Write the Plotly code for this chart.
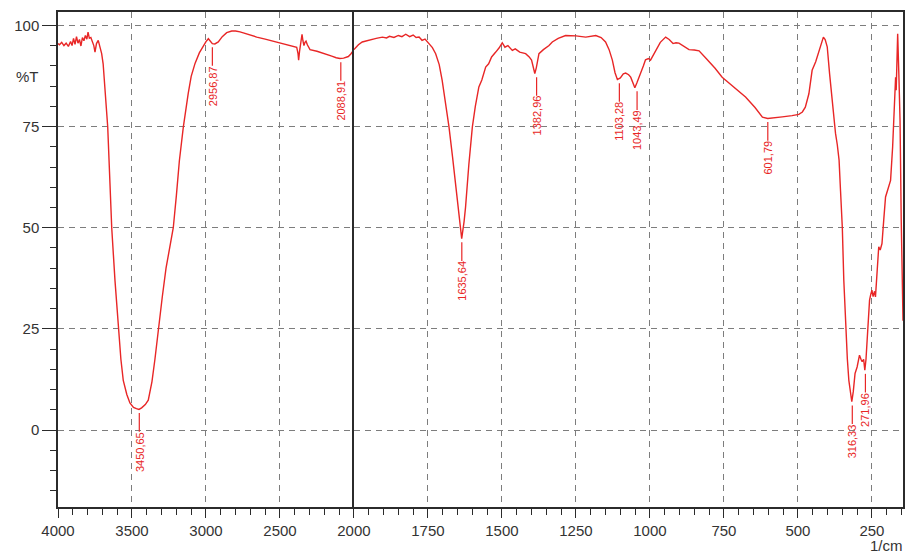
import plotly.graph_objects as go

# ---------------- data ----------------
wavenumber = [
    4000, 3990, 3975, 3960, 3945, 3930, 3915, 3905, 3895, 3885, 3875, 3865, 3855, 3845,
    3835, 3825, 3815, 3805, 3797, 3788, 3778, 3768, 3758, 3750, 3740, 3728, 3718, 3705,
    3695, 3682, 3672, 3664, 3650, 3637, 3615, 3592, 3575, 3559, 3535, 3514, 3490, 3470,
    3453, 3435, 3410, 3390, 3365, 3345, 3322, 3295, 3270, 3245, 3221, 3200, 3180, 3153,
    3135, 3120, 3100, 3074, 3045, 3018, 3000, 2984, 2970, 2957, 2940, 2917, 2890, 2860,
    2826, 2800, 2770, 2720, 2657, 2600, 2522, 2450, 2400, 2387, 2378, 2374, 2368, 2360,
    2351, 2345, 2338, 2331, 2324, 2315, 2297, 2250, 2207, 2150, 2120, 2095, 2070, 2050,
    2038, 2020, 2000,
    1985, 1972, 1950, 1925, 1904, 1890, 1880, 1865, 1850, 1838, 1825, 1812, 1800, 1790,
    1780, 1770, 1760, 1747, 1735, 1724, 1712, 1702, 1690, 1679, 1667, 1656, 1645, 1636,
    1628, 1623, 1612, 1600, 1590, 1578, 1568, 1560, 1555, 1545, 1535, 1521, 1510, 1499,
    1490, 1480, 1465, 1455, 1440, 1420, 1408, 1400, 1393, 1389, 1384, 1378, 1375, 1360,
    1341, 1330, 1310, 1285, 1250, 1217, 1200, 1183, 1165, 1150, 1138, 1127, 1118, 1110,
    1100, 1090, 1082, 1072, 1065, 1058, 1051, 1044, 1031, 1022, 1015, 1005, 998, 990,
    981, 965, 947, 935, 922, 912, 902, 885, 868, 850, 834, 810, 780, 756, 720, 677, 645,
    620, 602, 580, 553, 520, 497, 485, 475, 463, 452, 440, 429, 420, 414, 408, 401, 393,
    384, 378, 373, 367, 361, 356, 350, 345, 339, 333, 328, 322, 318, 313, 307, 300, 292,
    287, 283, 278, 274, 270, 266, 262, 258, 254, 250, 246, 241, 238, 232, 227, 222, 216,
    210, 204, 196, 187, 180, 174, 170, 168, 166, 163, 159, 155, 151, 147, 145,
]
transmittance = [
    95.5, 95.2, 95.8, 95.0, 95.6, 94.8, 96.0, 95.0, 96.8, 95.3, 97.2, 95.6, 96.5, 94.9,
    97.0, 96.2, 97.5, 96.6, 98.3, 96.8, 97.0, 96.2, 95.0, 93.4, 95.5, 96.3, 95.0, 93.0,
    90.5, 84.8, 79.5, 74.9, 62.0, 50.0, 37.0, 25.2, 17.5, 12.3, 8.8, 6.7, 5.6, 5.3,
    5.1, 5.5, 6.3, 7.4, 12.0, 17.5, 25.2, 33.0, 40.0, 45.5, 50.0, 58.0, 66.5, 74.9,
    80.0, 83.2, 87.4, 90.6, 93.2, 95.0, 96.0, 96.7, 96.2, 95.5, 95.4, 95.9, 97.2, 98.2,
    98.6, 98.6, 98.4, 97.8, 97.1, 96.6, 95.9, 95.2, 94.8, 94.6, 93.0, 91.4, 93.5, 95.6,
    97.8, 96.2, 95.0, 95.8, 96.1, 95.2, 94.0, 93.6, 93.0, 92.4, 92.0, 91.8, 91.9, 92.2,
    92.3, 93.0, 94.0,
    95.2, 95.9, 96.4, 96.8, 97.1, 96.9, 97.3, 97.0, 97.5, 97.2, 97.8, 97.2, 97.6, 97.0,
    97.1, 96.3, 96.6, 95.5, 94.5, 93.0, 90.3, 86.4, 81.0, 74.9, 67.5, 60.0, 52.0, 47.3,
    51.5, 55.1, 65.5, 74.9, 80.0, 84.8, 86.5, 88.4, 89.7, 90.5, 92.2, 93.4, 94.4, 95.7,
    94.6, 95.0, 93.8, 94.2, 93.4, 93.0, 92.2, 91.4, 89.2, 88.1, 89.5, 92.0, 93.0, 94.0,
    95.0, 95.9, 96.8, 97.5, 97.4, 97.1, 97.3, 97.5, 97.0, 95.9, 94.0, 91.4, 88.3, 86.6,
    87.0, 88.0, 88.2, 87.8, 87.2, 85.8, 84.6, 85.8, 88.1, 90.0, 91.5, 91.8, 91.4, 92.5,
    93.8, 95.8, 97.1, 96.5, 95.5, 95.7, 95.6, 94.8, 94.0, 93.9, 93.7, 91.8, 89.4, 87.2,
    85.0, 82.3, 79.7, 77.3, 77.0, 77.1, 77.4, 77.7, 78.0, 78.6, 79.8, 83.1, 88.9, 91.0,
    93.4, 95.5, 97.1, 96.5, 94.7, 88.0, 80.7, 76.5, 73.3, 70.5, 66.7, 59.0, 50.0, 37.0,
    25.1, 17.5, 12.3, 8.5, 7.0, 9.5, 14.0, 15.6, 18.5, 17.5, 16.9, 17.5, 14.8, 17.5,
    22.2, 28.0, 32.1, 33.5, 34.6, 33.0, 34.3, 32.9, 40.0, 45.3, 44.5, 46.1, 52.0, 57.6,
    59.5, 61.7, 70.0, 80.0, 87.2, 84.0, 92.0, 97.9, 88.0, 76.5, 52.0, 27.2, 27.0,
]

peak_labels = ["3450,65", "2956,87", "2088,91", "1635,64", "1382,96",
               "1103,28", "1043,49", "601,79", "316,33", "271,96"]
peak_wn = [3450.65, 2956.87, 2088.91, 1635.64, 1382.96,
           1103.28, 1043.49, 601.79, 316.33, 271.96]
peak_T = [5.1, 95.5, 91.8, 47.3, 88.1, 86.6, 84.6, 77.0, 7.0, 14.8]

x_ticks_left = [4000, 3500, 3000, 2500, 2000]
x_ticks_right = [1750, 1500, 1250, 1000, 750, 500, 250]
y_ticks = [0, 25, 50, 75, 100]

# ---------------- figure ----------------
RED = "rgb(232,38,38)"
GRID = "#7d7d7d"
FRAME = "#2b2b2b"
W, H = 909, 554
ML, MR, MT, MB = 58, 6, 12, 47
SPLIT = 2000
XMIN_R = 145
# left part (4000-2000) drawn at half the scale of the right part
left_units = 4000 - SPLIT
right_units = 2 * (SPLIT - XMIN_R)
d = left_units / (left_units + right_units)

left_x = [w for w in wavenumber if w >= SPLIT]
left_y = [t for w, t in zip(wavenumber, transmittance) if w >= SPLIT]
right_x = [w for w in wavenumber if w <= SPLIT]
right_y = [t for w, t in zip(wavenumber, transmittance) if w <= SPLIT]

fig = go.Figure()
fig.add_trace(go.Scatter(x=left_x, y=left_y, mode="lines", xaxis="x", yaxis="y",
                         line=dict(color=RED, width=1.4), showlegend=False,
                         hoverinfo="skip"))
fig.add_trace(go.Scatter(x=right_x, y=right_y, mode="lines", xaxis="x2", yaxis="y2",
                         line=dict(color=RED, width=1.4), showlegend=False,
                         hoverinfo="skip"))

tickfont = dict(family="Liberation Sans, Arial, sans-serif", size=15, color="#333")
common_x = dict(showline=True, linecolor=FRAME, linewidth=1.5, mirror=True,
                showgrid=True, gridcolor=GRID, griddash="6px,5px", gridwidth=1,
                ticks="outside", ticklen=9, tickcolor=FRAME, tickwidth=1.3,
                tickfont=tickfont, zeroline=False, automargin=False)
common_y = dict(range=[-19, 103.3], showline=True, linecolor=FRAME, linewidth=1.5,
                showgrid=True, gridcolor=GRID, griddash="6px,5px",
                gridwidth=1, zeroline=False, automargin=False)

fig.update_layout(
    width=W, height=H, autosize=False, showlegend=False,
    margin=dict(l=ML, r=MR, t=MT, b=MB, pad=0, autoexpand=False),
    paper_bgcolor="white", plot_bgcolor="white",
    xaxis=dict(domain=[0, d], range=[4000, SPLIT], tickvals=x_ticks_left,
               minor=dict(dtick=100, ticks="outside", ticklen=6, tickcolor=FRAME,
                          showgrid=False),
               **common_x),
    xaxis2=dict(domain=[d, 1], range=[SPLIT, XMIN_R], tickvals=x_ticks_right,
                minor=dict(dtick=50, ticks="outside", ticklen=6, tickcolor=FRAME,
                           showgrid=False),
                **common_x),
    yaxis=dict(anchor="x", tickvals=y_ticks, ticks="outside", ticklen=14,
               tickcolor=FRAME, tickwidth=1.3, tickfont=tickfont, mirror=False,
               minor=dict(dtick=5, ticks="outside", ticklen=6, tickcolor=FRAME,
                          showgrid=False),
               **common_y),
    yaxis2=dict(anchor="x2", matches="y", tickvals=y_ticks, ticks="", mirror=True,
                showticklabels=False, **common_y),
)

# peak labels: short vertical line below the band, rotated text below the line
gap, line_len = 0.9, 4.6
for lab, w, t in zip(peak_labels, peak_wn, peak_T):
    xr, yr = ("x", "y") if w >= SPLIT else ("x2", "y2")
    y0 = t - gap
    y1 = t - gap - line_len
    fig.add_shape(type="line", xref=xr, yref=yr, x0=w, x1=w, y0=y0, y1=y1,
                  line=dict(color=RED, width=1.2))
    fig.add_annotation(x=w, y=y1, xref=xr, yref=yr, text=lab, textangle=-90,
                       showarrow=False, xanchor="center", yanchor="top",
                       borderpad=0, borderwidth=0,
                       font=dict(family="Liberation Sans, Arial, sans-serif",
                                 size=11, color=RED))

fig.add_annotation(x=27, y=H - 77, xref="paper", yref="paper", text="%T",
                   showarrow=False, xanchor="center", yanchor="middle",
                   font=dict(family="Liberation Sans, Arial, sans-serif", size=15,
                             color="#333"))
fig.add_annotation(x=886, y=H - 545, xref="paper", yref="paper", text="1/cm",
                   showarrow=False, xanchor="center", yanchor="middle",
                   font=dict(family="Liberation Sans, Arial, sans-serif", size=15,
                             color="#333"))

# convert pixel positions of the two free labels to paper coordinates
for ann in fig.layout.annotations[-2:]:
    ann.x = (ann.x - ML) / (W - ML - MR)
    ann.y = (ann.y - MB) / (H - MT - MB)

fig.write_html("out.html")
